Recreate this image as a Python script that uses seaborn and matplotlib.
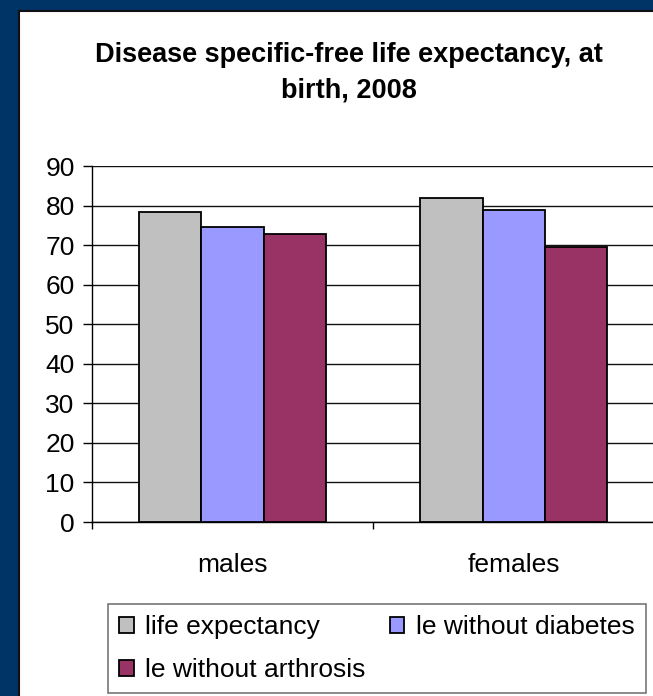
import numpy as np
import pandas as pd
import matplotlib.pyplot as plt
import seaborn as sns
from matplotlib.patches import Rectangle

# data
sexes = ["males", "females"]
series = ["life expectancy", "le without diabetes", "le without arthrosis"]
life_expectancy = [78.4, 82.0]
le_without_diabetes = [74.6, 78.8]
le_without_arthrosis = [72.8, 69.5]
colors = ["#C0C0C0", "#9999FF", "#993366"]

df = pd.DataFrame({
    "sex": sexes * 3,
    "series": np.repeat(series, 2),
    "value": life_expectancy + le_without_diabetes + le_without_arthrosis,
})

sns.set_style("white")
plt.rcParams['font.family'] = ['Liberation Sans', 'DejaVu Sans']
plt.rcParams['text.color'] = 'black'

fig = plt.figure(figsize=(6.53, 6.96), dpi=100)
fig.patch.set_facecolor("#003366")
# white chart panel with dark edge
fig.patches.append(Rectangle((19 / 653, -0.01), 1.0, 1 - 11 / 696 + 0.01,
                             transform=fig.transFigure, facecolor="white",
                             edgecolor="#111111", linewidth=1.5, zorder=-10))

ax = fig.add_axes([92 / 653, 174 / 696, 1 - 92 / 653 + 0.002, 356 / 696])
ax.set_zorder(2)
sns.barplot(data=df, x="sex", y="value", hue="series", palette=colors,
            width=0.665, gap=0, edgecolor="black", linewidth=1.3,
            saturation=1, ax=ax, zorder=3)

ax.set_ylim(0, 90)
ax.set_yticks(range(0, 91, 10))
ax.set_xlim(-0.5, 1.5)
ax.yaxis.grid(True, color="#111111", linewidth=1, zorder=0)
ax.set_axisbelow(True)
ax.set_xlabel("")
ax.set_ylabel("")
ax.patch.set_alpha(0)
for s in ["top", "right"]:
    ax.spines[s].set_visible(False)
ax.spines["left"].set_color("black")
ax.spines["bottom"].set_color("black")
ax.spines["left"].set_linewidth(1)
ax.spines["bottom"].set_linewidth(1)

ax.tick_params(axis="y", labelsize=19, length=6.5, width=1, color="black",
               direction="out", left=True, pad=6, labelcolor="black")
ax.set_xticks([-0.5, 0.5, 1.5], minor=True)
ax.tick_params(axis="x", which="minor", length=5, width=1, color="black",
               direction="out", bottom=True)
ax.tick_params(axis="x", which="major", length=0, labelsize=19, pad=22,
               labelcolor="black")

fig.text(349 / 653, 1 - 73 / 696, "Disease specific-free life expectancy, at\nbirth, 2008",
         ha="center", va="center", fontsize=19.5, fontweight="bold",
         linespacing=1.45, color="black")

handles, labels = ax.get_legend_handles_labels()
ax.get_legend().remove()
order = [0, 2, 1]
leg = fig.legend([handles[i] for i in order], [labels[i] for i in order],
                 ncol=2, loc="lower left", bbox_to_anchor=(108 / 653, 3 / 696),
                 fontsize=19, frameon=True, fancybox=False, edgecolor="#555555",
                 handlelength=0.55, handleheight=0.55, handletextpad=0.45,
                 columnspacing=0.9, borderpad=0.42, labelspacing=0.7,
                 borderaxespad=0, labelcolor="black")
leg.get_frame().set_linewidth(1.2)

fig.savefig("out.png", dpi=100, facecolor=fig.get_facecolor())
